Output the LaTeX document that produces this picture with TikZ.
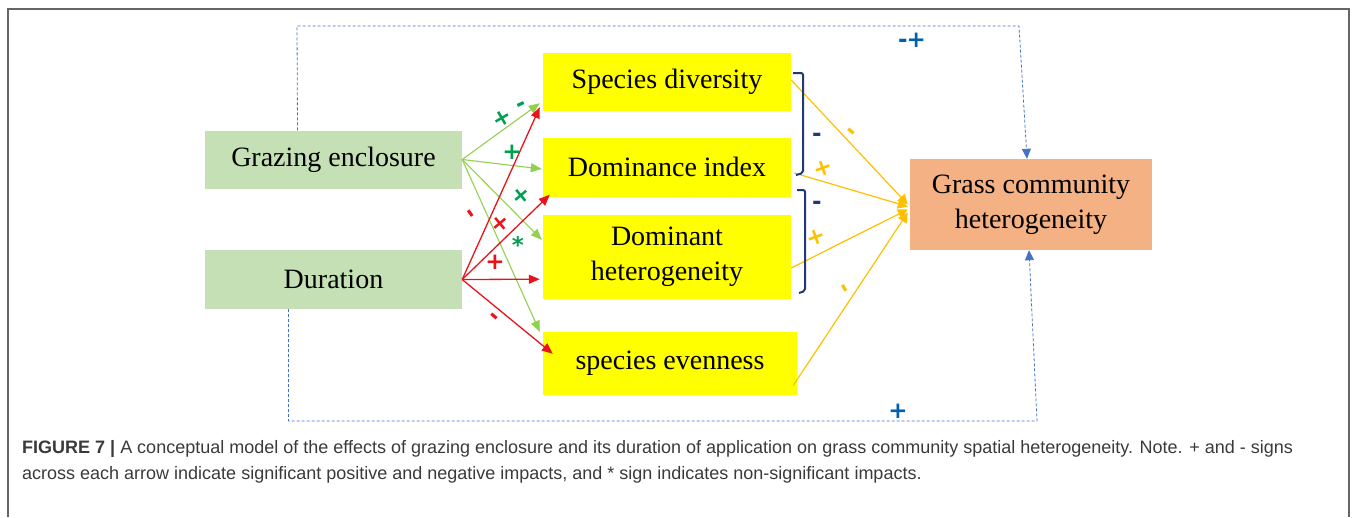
\documentclass[tikz,border=0pt]{standalone}
\usepackage{fontspec}
\setmainfont{Liberation Serif}
\setsansfont{Liberation Sans}
\newfontfamily\signfont{DejaVu Sans}
\usetikzlibrary{arrows.meta}

\definecolor{boxgreen}{HTML}{C5E0B4}
\definecolor{boxyellow}{HTML}{FFFF00}
\definecolor{boxorange}{HTML}{F4B183}
\definecolor{arrgreen}{HTML}{92D050}
\definecolor{arrred}{HTML}{E8141B}
\definecolor{arrorange}{HTML}{FFC000}
\definecolor{loopblue}{HTML}{4472C4}
\definecolor{signgreen}{HTML}{00A050}
\definecolor{signblue}{HTML}{0060B0}
\definecolor{bracketblue}{HTML}{1F3878}
\definecolor{captext}{HTML}{3A3A3A}

\begin{document}
\begin{tikzpicture}[x=1pt, y=-1pt,
    box/.style={inner sep=0pt, align=center, font=\fontsize{28}{35}\selectfont},
    greenarrow/.style={-{Triangle[length=11pt,width=9pt]}, line width=1.1pt, arrgreen},
    redarrow/.style={-{Triangle[length=11pt,width=9pt]}, line width=1.3pt, arrred},
    orangearrow/.style={-{Triangle[length=10pt,width=10pt]}, line width=1.2pt, arrorange},
    looparrow/.style={-{Triangle[length=10pt,width=9pt]}, densely dashed, line width=0.8pt, loopblue},
    bracket/.style={line width=2pt, bracketblue, rounded corners=2pt},
    sign/.style={font=\signfont\bfseries\fontsize{23}{23}\selectfont, inner sep=0pt}
]

    \useasboundingbox (0,0) rectangle (1357,517);

    % Make the frame
    \draw[gray!80!black, line width=1.6pt] (8,517) -- (8,9) -- (1349,9) -- (1349,517);

    % Make the boxes
    \node[box, fill=boxgreen, minimum width=257pt, minimum height=58pt] (graz) at (333.5,159.5) {Grazing enclosure};
    \node[box, fill=boxgreen, minimum width=257pt, minimum height=59pt] (dur) at (333.5,279.5) {Duration};

    \node[box, fill=boxyellow, minimum width=248pt, minimum height=58pt] (sd) at (667,82) {Species diversity};
    \node[box, fill=boxyellow, minimum width=248pt, minimum height=59pt] (dom) at (667,167) {Dominance index};
    \node[box, fill=boxyellow, minimum width=248pt, minimum height=84pt] (dh) at (667,257) {Dominant\\heterogeneity};
    \node[box, fill=boxyellow, minimum width=254pt, minimum height=63pt] (ev) at (670,363.5) {species evenness};

    \node[box, fill=boxorange, minimum width=242pt, minimum height=91pt] (grass) at (1031,204.5) {Grass community\\heterogeneity};

    % Make the arrows from grazing enclosure
    \draw[greenarrow] (graz.east) -- ([xshift=-3pt,yshift=8pt]sd.south west);
    \draw[greenarrow] (graz.east) -- ([xshift=-1pt,yshift=-2pt]dom.west);
    \draw[greenarrow] (graz.east) -- ([xshift=-1pt,yshift=-25pt]dh.north west);
    \draw[greenarrow] (graz.east) -- ([xshift=-3pt]ev.north west);

    % Make the arrows from duration
    \draw[redarrow] (dur.east) -- ([xshift=-3pt,yshift=4pt]sd.south west);
    \draw[redarrow] (dur.east) -- ([xshift=7pt,yshift=2pt]dom.south west);
    \draw[redarrow] (dur.east) -- ([xshift=-3pt,yshift=20pt]dh.south west);
    \draw[redarrow] (dur.east) -- ([xshift=10pt,yshift=-22pt]ev.north west);

    % Make the arrows to grass community heterogeneity
    \draw[orangearrow] ([yshift=2pt]sd.east) -- ([xshift=-2pt]grass.west);
    \draw[orangearrow] ([xshift=3pt,yshift=-6pt]dom.east) -- ([xshift=-2pt,yshift=-2pt]grass.west);
    \draw[orangearrow] ([yshift=-11pt]dh.east) -- ([xshift=-2pt,yshift=-5pt]grass.west);
    \draw[orangearrow] ([xshift=-4pt,yshift=-22pt]ev.east) -- ([xshift=-2pt,yshift=-8pt]grass.west);

    % Make the brackets
    \draw[bracket] (793,73) -- (803,73) -- (803,173) -- (796,175);
    \draw[bracket] (797,190) -- (805,190) -- (805,291) -- (799,293);

    % Make the dashed loops
    \coordinate (tl) at (297,26);
    \coordinate (tr) at (1019,26);
    \coordinate (bl) at (288.5,421);
    \coordinate (br) at (1037,421);
    \draw[looparrow] ([xshift=-36pt]graz.north) -- (tl) -- (tr) -- ([xshift=-4pt]grass.north);
    \draw[looparrow] ([xshift=-45pt]dur.south) -- (bl) -- (br) -- ([xshift=-2pt]grass.south);

    % Make the signs
    \node[sign, signgreen, rotate=30] (s1a) at (502,118) {+};
    \node[sign, signgreen, rotate=25] (s1b) at (522,107) {-};
    \node[sign, signgreen] (s2) at (512,152) {+};
    \node[sign, signgreen, rotate=40] (s3) at (521,196) {+};
    \node[sign, signgreen] (s4) at (518,245) {*};
    \node[sign, arrred, rotate=-55] (s5) at (469,215) {-};
    \node[sign, arrred, rotate=40] (s6) at (500,224) {+};
    \node[sign, arrred] (s7) at (495,262) {+};
    \node[sign, arrred, rotate=-40] (s8) at (493,318) {-};
    \node[sign, arrorange, rotate=-40] (s9) at (850,133) {-};
    \node[sign, arrorange, rotate=20] (s10) at (823,168) {+};
    \node[sign, arrorange, rotate=20] (s11) at (816,237) {+};
    \node[sign, arrorange, rotate=-60] (s12) at (842,290) {-};
    \node[sign, bracketblue] (s13) at (817,137) {-};
    \node[sign, bracketblue] (s14) at (817,205) {-};
    \node[sign, signblue] (s15) at (912,40) {-\kern-1pt+};
    \node[sign, signblue] (s16) at (898,411) {+};

    % Make the caption
    \node[anchor=north west, inner sep=0pt, align=left, text=captext,
          font=\sffamily\fontsize{18}{26}\selectfont] (cap) at (22,440)
        {\textbf{FIGURE 7 |} A conceptual model of the effects of grazing enclosure and its duration of application on grass community spatial heterogeneity. Note. + and - signs\\
         across each arrow indicate significant positive and negative impacts, and * sign indicates non-significant impacts.};

\end{tikzpicture}
\end{document}
